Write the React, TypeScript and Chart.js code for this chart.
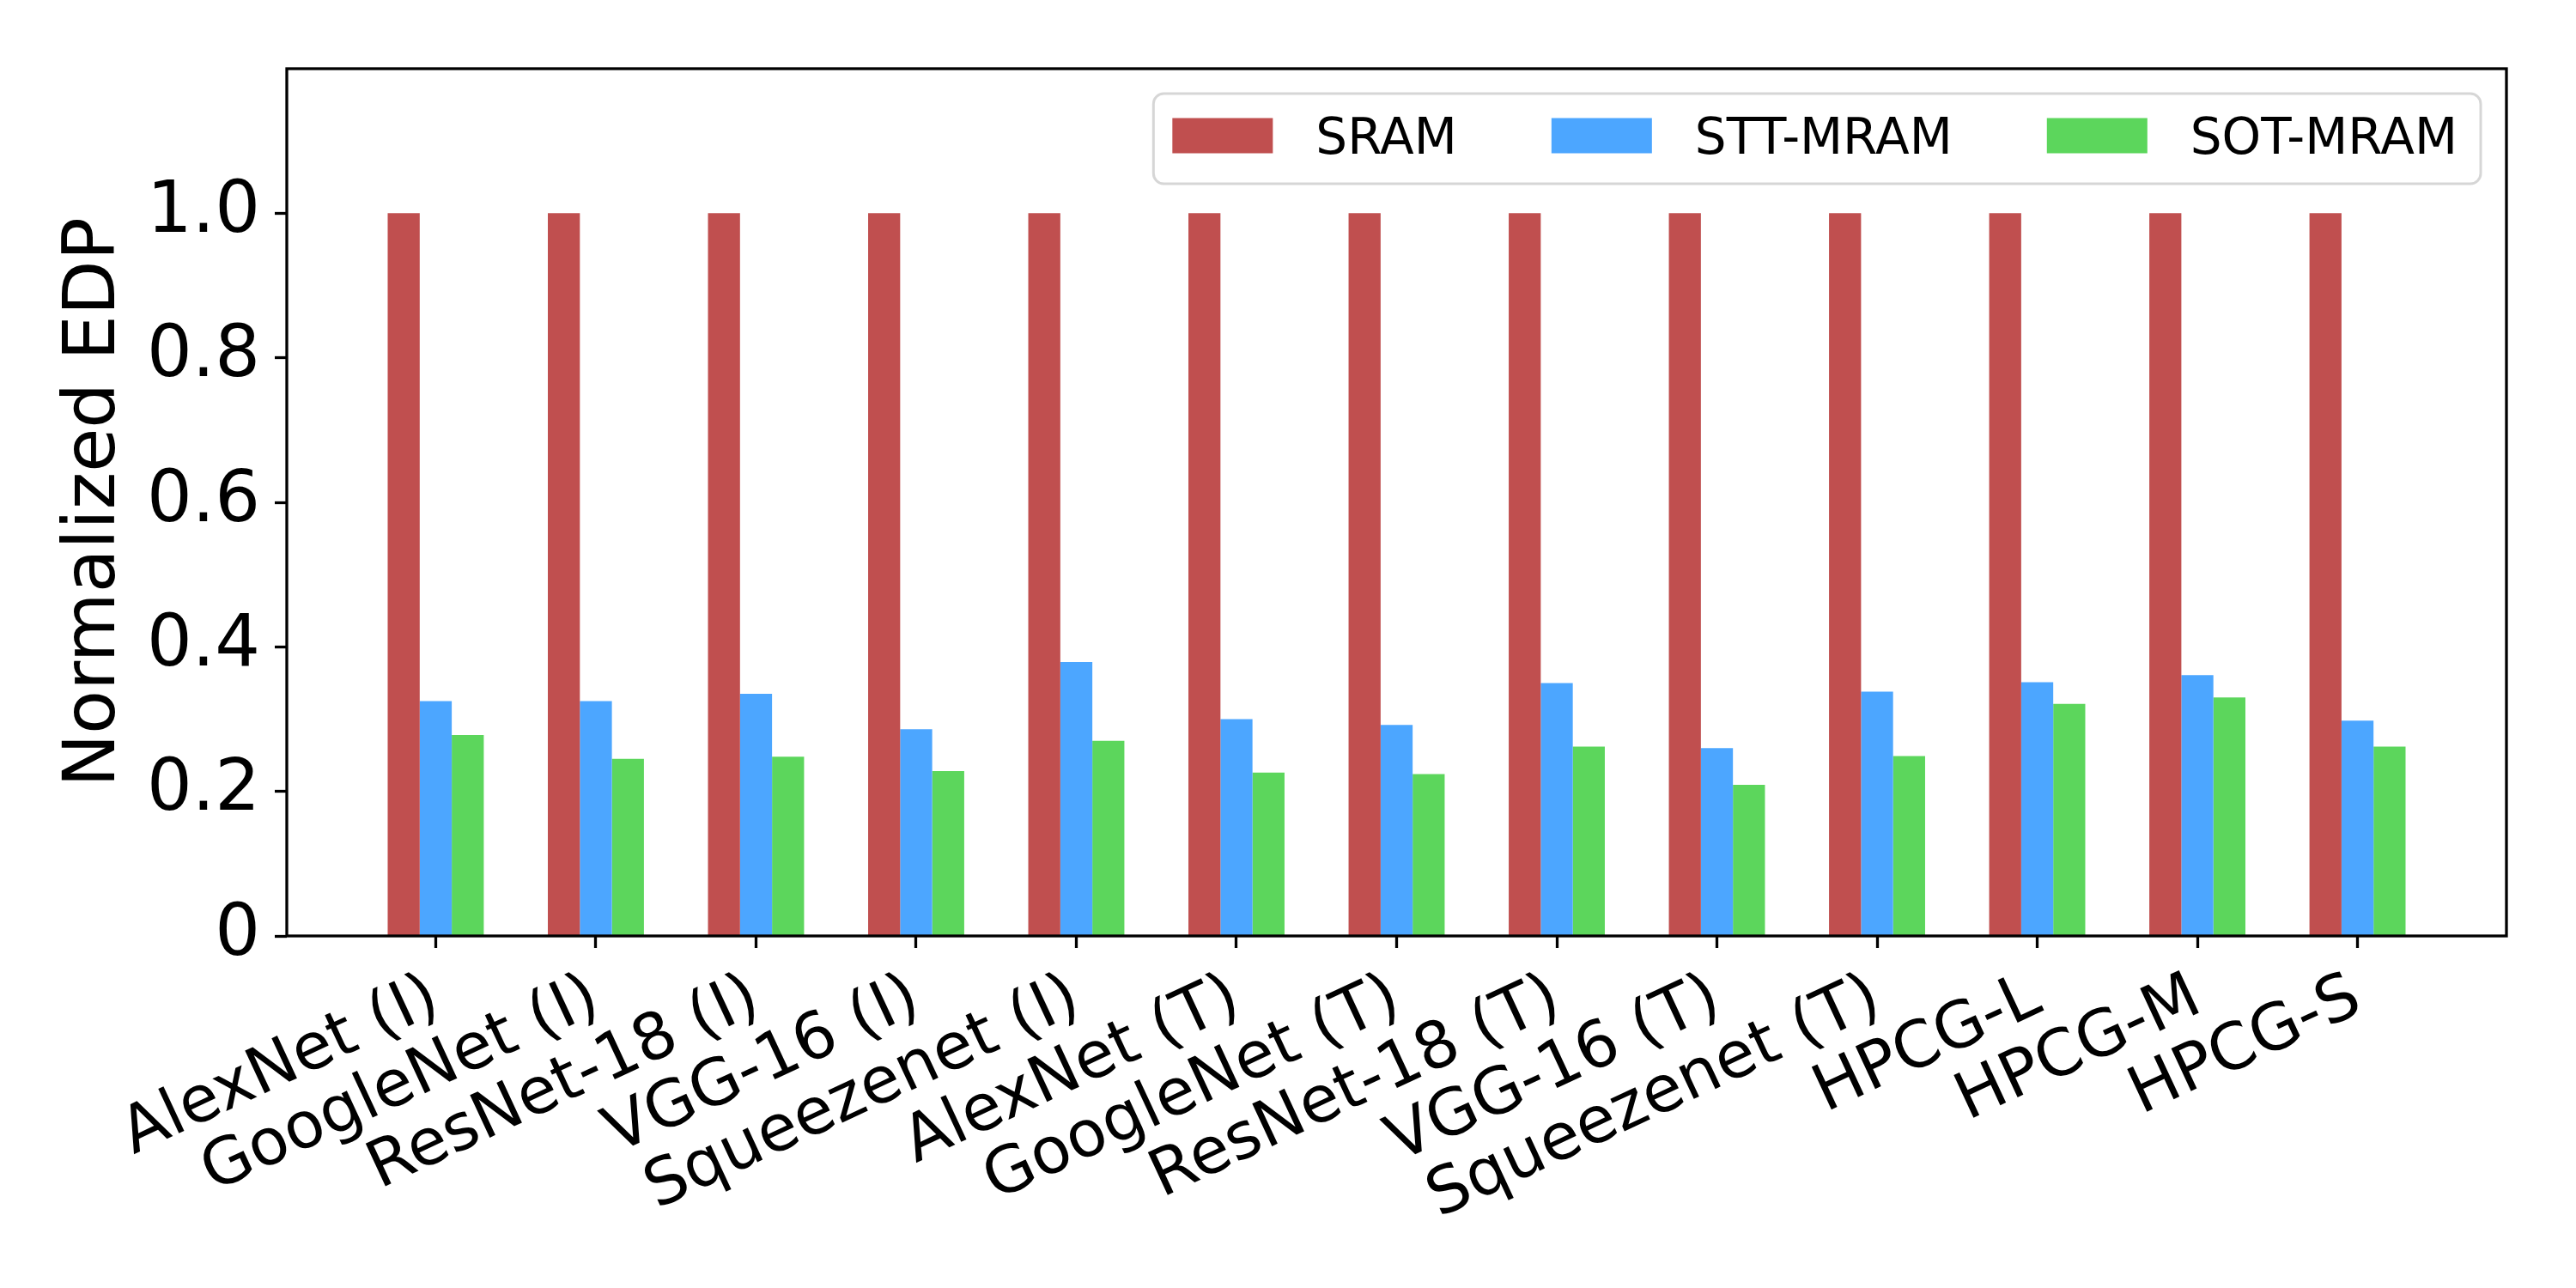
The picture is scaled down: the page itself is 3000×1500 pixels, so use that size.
import React, { useEffect, useRef } from 'react';
import { Chart, registerables } from 'chart.js';

Chart.register(...registerables);

const categories = [
    'AlexNet (I)', 'GoogleNet (I)', 'ResNet-18 (I)', 'VGG-16 (I)', 'Squeezenet (I)',
    'AlexNet (T)', 'GoogleNet (T)', 'ResNet-18 (T)', 'VGG-16 (T)', 'Squeezenet (T)',
    'HPCG-L', 'HPCG-M', 'HPCG-S',
];
const seriesNames = ['SRAM', 'STT-MRAM', 'SOT-MRAM'];
const sramEdp = [1.0, 1.0, 1.0, 1.0, 1.0, 1.0, 1.0, 1.0, 1.0, 1.0, 1.0, 1.0, 1.0];
const sttEdp = [0.325, 0.325, 0.335, 0.286, 0.379, 0.300, 0.292, 0.350, 0.260, 0.338, 0.351, 0.361, 0.298];
const sotEdp = [0.278, 0.245, 0.248, 0.228, 0.270, 0.226, 0.224, 0.262, 0.209, 0.249, 0.321, 0.330, 0.262];
const yTickValues = [0, 0.2, 0.4, 0.6, 0.8, 1.0];
const seriesColors = ['#c04f4f', '#4ca6ff', '#5cd65c'];

const FONT = '"DejaVu Sans"';

// legend drawn inside the plot frame, top right, with a rounded grey box
const boxedLegend = {
    id: 'boxedLegend',
    afterDraw(chart: any) {
        const { ctx, chartArea } = chart;
        const swatchW = 117, swatchH = 41, textGap = 50, colGap = 110;
        const padL = 22, padR = 27, boxH = 105;
        ctx.save();
        ctx.font = `58px ${FONT}`;
        const items = chart.data.datasets.map((ds: any) => ({
            label: ds.label,
            color: ds.backgroundColor,
            w: ctx.measureText(ds.label).width,
        }));
        let width = padL + padR;
        items.forEach((it: any, i: number) => {
            width += swatchW + textGap + it.w + (i > 0 ? colGap : 0);
        });
        const right = chartArea.right - 30;
        const left = right - width;
        const top = chartArea.top + 29;

        ctx.beginPath();
        ctx.roundRect(left, top, width, boxH, 12);
        ctx.fillStyle = 'rgba(255,255,255,0.8)';
        ctx.fill();
        ctx.lineWidth = 3;
        ctx.strokeStyle = 'rgba(204,204,204,0.8)';
        ctx.stroke();

        const cy = top + 49;
        let x = left + padL;
        items.forEach((it: any) => {
            ctx.fillStyle = it.color;
            ctx.fillRect(x, cy - swatchH / 2, swatchW, swatchH);
            x += swatchW + textGap;
            ctx.fillStyle = '#000';
            ctx.textAlign = 'left';
            ctx.textBaseline = 'alphabetic';
            ctx.fillText(it.label, x, cy + 21);
            x += it.w + colGap;
        });
        ctx.restore();
    },
};

// all four spines like matplotlib
const frame = {
    id: 'frame',
    afterDatasetsDraw(chart: any) {
        const { ctx, chartArea } = chart;
        ctx.save();
        ctx.lineWidth = 3.3;
        ctx.strokeStyle = '#000';
        ctx.strokeRect(chartArea.left, chartArea.top, chartArea.right - chartArea.left, chartArea.bottom - chartArea.top);
        ctx.restore();
    },
};

function EdpChart() {
    const chartRef = useRef<HTMLCanvasElement | null>(null);
    const chartInstance = useRef<Chart | null>(null);

    useEffect(() => {
        if (!chartRef.current) return;
        if (chartInstance.current) {
            chartInstance.current.destroy();
        }
        const ctx = chartRef.current.getContext('2d');
        if (!ctx) return;

        const seriesValues = [sramEdp, sttEdp, sotEdp];
        const tickGrid = {
            drawOnChartArea: false,
            drawTicks: true,
            tickLength: 14,
            tickWidth: 3.3,
            tickColor: '#000',
            color: '#000',
            offset: false,
        };

        chartInstance.current = new Chart(ctx, {
            type: 'bar',
            data: {
                datasets: seriesNames.map((name, s) => ({
                    label: name,
                    data: categories.map((_, i) => ({ x: i, y: seriesValues[s][i] })),
                    backgroundColor: seriesColors[s],
                    borderWidth: 0,
                    categoryPercentage: 0.6,
                    barPercentage: 1.0,
                })),
            },
            options: {
                animation: false,
                responsive: true,
                maintainAspectRatio: false,
                devicePixelRatio: 1,
                layout: {
                    padding: { top: 80, right: 81, left: 0, bottom: 0 },
                },
                scales: {
                    x: {
                        type: 'linear',
                        min: -0.93,
                        max: 12.93,
                        offset: false,
                        afterBuildTicks: (axis: any) => {
                            axis.ticks = categories.map((_, i) => ({ value: i }));
                        },
                        afterFit: (scale: any) => {
                            scale.height = 410;
                        },
                        ticks: {
                            autoSkip: false,
                            maxRotation: 25,
                            minRotation: 25,
                            padding: 14,
                            color: '#000',
                            font: { family: FONT, size: 75 },
                            callback: (v: any) => categories[Math.round(Number(v))] ?? '',
                        },
                        grid: tickGrid,
                        border: { display: false },
                    },
                    y: {
                        type: 'linear',
                        min: 0,
                        max: 1.2,
                        afterBuildTicks: (axis: any) => {
                            axis.ticks = yTickValues.map(v => ({ value: v }));
                        },
                        afterFit: (scale: any) => {
                            scale.width = 334;
                        },
                        ticks: {
                            padding: 17,
                            color: '#000',
                            font: { family: FONT, size: 83 },
                            callback: (v: any) => (Number(v) === 0 ? '0' : Number(v).toFixed(1)),
                        },
                        title: {
                            display: true,
                            text: 'Normalized EDP',
                            color: '#000',
                            font: { family: FONT, size: 83 },
                            padding: { top: 62, bottom: 0 },
                        },
                        grid: tickGrid,
                        border: { display: false },
                    },
                },
                plugins: {
                    legend: { display: false },
                    tooltip: { enabled: false },
                },
            },
            plugins: [frame, boxedLegend],
        } as any);

        return () => {
            if (chartInstance.current) {
                chartInstance.current.destroy();
                chartInstance.current = null;
            }
        };
    }, []);

    return (
        <div style={{ position: 'absolute', left: 0, top: 0, width: 3000, height: 1500, background: '#fff' }}>
            <canvas ref={chartRef} />
        </div>
    );
}

export default function App() {
    return <EdpChart />;
}
